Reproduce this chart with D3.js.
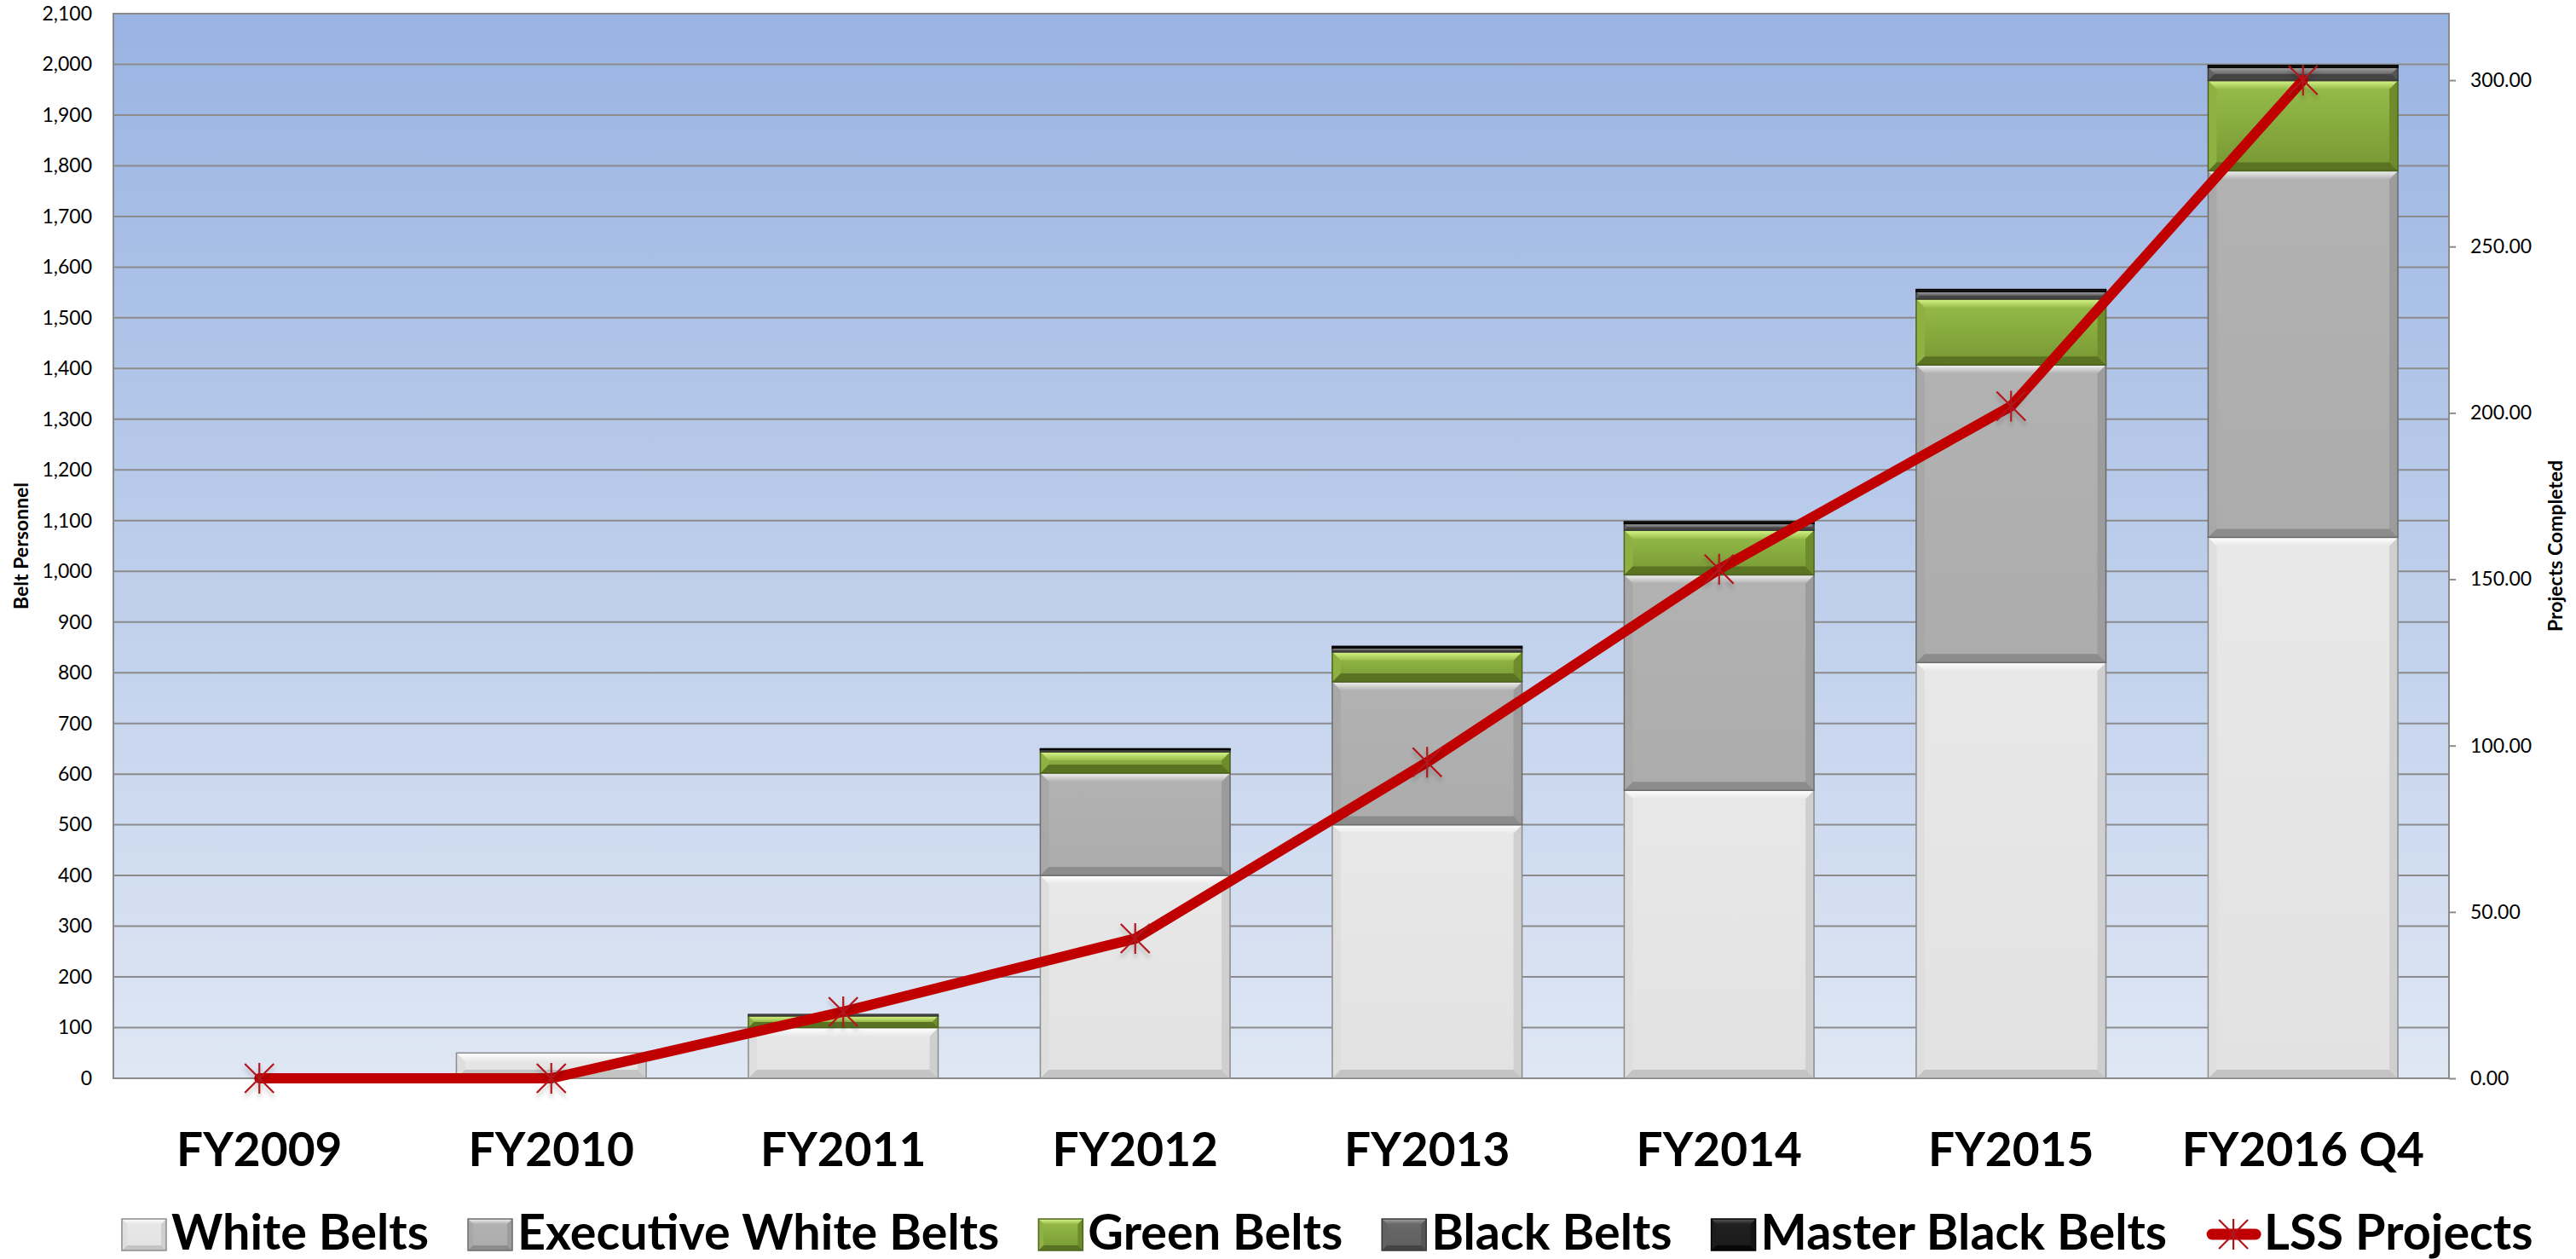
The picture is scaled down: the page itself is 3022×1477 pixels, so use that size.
<!DOCTYPE html>
<html>
<head>
<meta charset="utf-8">
<script src="https://cdn.jsdelivr.net/npm/d3@7/dist/d3.min.js"></script>
<style>
  body { margin: 0; background: #fff; }
  svg { display: block; font-family: Lato, "Open Sans", sans-serif; }
</style>
</head>
<body>
<svg id="chart" width="3022" height="1477"></svg>
<script>
(function() {

  // Chart Data
  var categories = ["FY2009", "FY2010", "FY2011", "FY2012", "FY2013", "FY2014", "FY2015", "FY2016 Q4"];
  var whiteBelts = [0, 50, 100, 400, 500, 568, 820, 1067];
  var execWhiteBelts = [0, 0, 0, 202, 282, 425, 587, 723];
  var greenBelts = [0, 0, 23, 42, 59, 88, 130, 178];
  var blackBelts = [0, 0, 3, 4, 8, 13, 15, 26];
  var masterBlackBelts = [0, 0, 0, 2, 3, 4, 4, 4];
  var lssProjects = [0, 0, 20, 42, 95, 153, 202, 300];
  var seriesNames = ["White Belts", "Executive White Belts", "Green Belts", "Black Belts", "Master Black Belts"];
  var lineName = "LSS Projects";
  var leftTicks = d3.range(0, 2101, 100);
  var rightTicks = [0, 50, 100, 150, 200, 250, 300];
  var leftTitle = "Belt Personnel";
  var rightTitle = "Projects Completed";

  // Design Variables
  var width = 3022;
  var height = 1477;
  var plot = {left: 133, top: 16, right: 2873, bottom: 1265};
  var keys = ["white", "exec", "green", "black", "master"];
  var styles = {
    white:  {top: "#ffffff", body: ["#e8e8e8", "#e2e2e2"], bottom: "#c4c4c4", left: "#dedede", right: "#cfcfcf", stroke: "#8c8c8c"},
    exec:   {top: "#f2f2f2", body: ["#b2b2b2", "#acacac"], bottom: "#8c8c8c", left: "#a8a8a8", right: "#9c9c9c", stroke: "#6c6c6c"},
    green:  {top: "#d8f68a", body: ["#98bd4a", "#779833"], bottom: "#5a7322", left: "#8fb043", right: "#6f8c2c", stroke: "#4d641d"},
    black:  {top: "#a2a2a2", body: ["#6a6a6a", "#5e5e5e"], bottom: "#444444", left: "#626262", right: "#555555", stroke: "#383838"},
    master: {top: "#5a5a5a", body: ["#222222", "#1a1a1a"], bottom: "#080808", left: "#1c1c1c", right: "#141414", stroke: "#000000"}
  };
  var lineColor = "#c00000";
  var starColor = "#b3141a";
  var gridColor = "#8b8b8b";

  // Table for the stack
  var rows = categories.map(function(c, i) {
    return {
      category: c,
      white: whiteBelts[i],
      exec: execWhiteBelts[i],
      green: greenBelts[i],
      black: blackBelts[i],
      master: masterBlackBelts[i],
      projects: lssProjects[i]
    };
  });
  var stacked = d3.stack().keys(keys)(rows);

  // Scales
  var x = d3.scaleBand()
    .domain(categories)
    .range([plot.left, plot.right])
    .paddingInner(0.35)
    .paddingOuter(0.175);

  var yLeft = d3.scaleLinear()
    .domain([0, 2100])
    .range([plot.bottom, plot.top]);

  var yRight = d3.scaleLinear()
    .domain([0, 320])
    .range([plot.bottom, plot.top]);

  var svg = d3.select("#chart");
  var defs = svg.append("defs");

  // Gradients
  var bg = defs.append("linearGradient")
    .attr("id", "plot-bg")
    .attr("x1", 0).attr("y1", 0).attr("x2", 0).attr("y2", 1);
  bg.append("stop").attr("offset", "0%").attr("stop-color", "#99b3e2");
  bg.append("stop").attr("offset", "100%").attr("stop-color", "#dfe7f4");

  keys.forEach(function(k) {
    var s = styles[k];
    var top = defs.append("linearGradient")
      .attr("id", "top-" + k)
      .attr("x1", 0).attr("y1", 0).attr("x2", 0).attr("y2", 1);
    top.append("stop").attr("offset", "0%").attr("stop-color", s.top);
    top.append("stop").attr("offset", "100%").attr("stop-color", s.body[0]);
    var body = defs.append("linearGradient")
      .attr("id", "body-" + k)
      .attr("x1", 0).attr("y1", 0).attr("x2", 0).attr("y2", 1);
    body.append("stop").attr("offset", "0%").attr("stop-color", s.body[0]);
    body.append("stop").attr("offset", "100%").attr("stop-color", s.body[1]);
  });

  var shadow = defs.append("filter")
    .attr("id", "star-shadow")
    .attr("x", "-50%").attr("y", "-50%")
    .attr("width", "200%").attr("height", "200%");
  shadow.append("feDropShadow")
    .attr("dx", 0).attr("dy", 5)
    .attr("stdDeviation", 2.5)
    .attr("flood-color", "#000")
    .attr("flood-opacity", 0.25);

  // Plot area
  svg.append("rect")
    .attr("x", plot.left)
    .attr("y", plot.top)
    .attr("width", plot.right - plot.left)
    .attr("height", plot.bottom - plot.top)
    .attr("fill", "url(#plot-bg)");

  svg.append("g")
    .selectAll("line")
    .data(leftTicks)
    .enter()
    .append("line")
    .attr("x1", plot.left)
    .attr("x2", plot.right)
    .attr("y1", function(d) { return yLeft(d); })
    .attr("y2", function(d) { return yLeft(d); })
    .attr("stroke", gridColor)
    .attr("stroke-width", 2);

  svg.append("rect")
    .attr("x", plot.left)
    .attr("y", plot.top)
    .attr("width", plot.right - plot.left)
    .attr("height", plot.bottom - plot.top)
    .attr("fill", "none")
    .attr("stroke", gridColor)
    .attr("stroke-width", 2);

  // Bevelled box like the Excel bars
  function bevelBox(g, k, x0, y0, w, h, size) {
    var s = styles[k];
    var b = Math.min(size, h / 2);
    var pts = function(a) { return a.map(function(p) { return p.join(","); }).join(" "); };
    g.append("rect")
      .attr("x", x0).attr("y", y0)
      .attr("width", w).attr("height", h)
      .attr("fill", "url(#body-" + k + ")");
    g.append("polygon")
      .attr("points", pts([[x0, y0], [x0 + b, y0 + b], [x0 + b, y0 + h - b], [x0, y0 + h]]))
      .attr("fill", s.left);
    g.append("polygon")
      .attr("points", pts([[x0 + w, y0], [x0 + w - b, y0 + b], [x0 + w - b, y0 + h - b], [x0 + w, y0 + h]]))
      .attr("fill", s.right);
    g.append("polygon")
      .attr("points", pts([[x0, y0 + h], [x0 + w, y0 + h], [x0 + w - b, y0 + h - b], [x0 + b, y0 + h - b]]))
      .attr("fill", s.bottom);
    g.append("polygon")
      .attr("points", pts([[x0, y0], [x0 + w, y0], [x0 + w - b, y0 + b], [x0 + b, y0 + b]]))
      .attr("fill", "url(#top-" + k + ")");
    g.append("rect")
      .attr("x", x0).attr("y", y0)
      .attr("width", w).attr("height", h)
      .attr("fill", "none")
      .attr("stroke", s.stroke)
      .attr("stroke-width", 1.5);
  }

  // Stacked bars
  var bars = svg.append("g").attr("class", "bars");
  stacked.forEach(function(layer) {
    var k = layer.key;
    layer.forEach(function(d) {
      var y0 = yLeft(d[1]);
      var h = yLeft(d[0]) - yLeft(d[1]);
      if (h <= 0.5) return;
      bevelBox(bars.append("g"), k, x(d.data.category), y0, x.bandwidth(), h, 10);
    });
  });

  // LSS projects line
  var cx = function(d) { return x(d.category) + x.bandwidth() / 2; };
  var line = d3.line()
    .x(cx)
    .y(function(d) { return yRight(d.projects); });

  svg.append("path")
    .datum(rows)
    .attr("d", line)
    .attr("fill", "none")
    .attr("stroke", lineColor)
    .attr("stroke-width", 12)
    .attr("stroke-linejoin", "round")
    .attr("stroke-linecap", "round");

  var starPath = "M0,-18L0,18M-17,-17L17,17M-17,17L17,-17";
  svg.append("g")
    .selectAll("path")
    .data(rows)
    .enter()
    .append("path")
    .attr("transform", function(d) { return "translate(" + cx(d) + "," + yRight(d.projects) + ")"; })
    .attr("d", starPath)
    .attr("fill", "none")
    .attr("stroke", starColor)
    .attr("stroke-width", 2.2)
    .attr("filter", "url(#star-shadow)");

  // Axes
  var leftAxis = svg.append("g")
    .attr("transform", "translate(" + plot.left + ",0)")
    .call(d3.axisLeft(yLeft).tickValues(leftTicks).tickFormat(d3.format(",")).tickSize(0).tickPadding(25));
  leftAxis.select(".domain").remove();
  leftAxis.selectAll("text")
    .attr("font-family", "Lato, sans-serif")
    .attr("font-size", 23)
    .attr("fill", "#000");

  var rightAxis = svg.append("g")
    .attr("transform", "translate(" + plot.right + ",0)")
    .call(d3.axisRight(yRight).tickValues(rightTicks).tickFormat(d3.format(".2f")).tickSize(8).tickPadding(17));
  rightAxis.select(".domain").remove();
  rightAxis.selectAll("line").attr("stroke", gridColor).attr("stroke-width", 2);
  rightAxis.selectAll("text")
    .attr("font-family", "Lato, sans-serif")
    .attr("font-size", 23)
    .attr("fill", "#000");

  var bottomAxis = svg.append("g")
    .attr("transform", "translate(0," + plot.bottom + ")")
    .call(d3.axisBottom(x).tickSize(0));
  bottomAxis.select(".domain").remove();
  bottomAxis.selectAll("text")
    .attr("y", 103)
    .attr("dy", 0)
    .attr("font-family", "Lato, sans-serif")
    .attr("font-weight", "bold")
    .attr("font-size", 55)
    .attr("fill", "#000");

  // Axis titles
  svg.append("text")
    .attr("transform", "translate(33," + (plot.top + plot.bottom) / 2 + ") rotate(-90)")
    .attr("text-anchor", "middle")
    .attr("font-weight", "bold")
    .attr("font-size", 23)
    .text(leftTitle);

  svg.append("text")
    .attr("transform", "translate(3006," + (plot.top + plot.bottom) / 2 + ") rotate(-90)")
    .attr("text-anchor", "middle")
    .attr("font-weight", "bold")
    .attr("font-size", 23)
    .text(rightTitle);

  // Legend
  var legend = svg.append("g").attr("class", "legend");
  var lx = 143;
  var swatchTop = 1430;
  var baseline = 1466;
  var legendFont = 57.5;
  seriesNames.forEach(function(name, i) {
    var g = legend.append("g");
    bevelBox(g, keys[i], lx, swatchTop, 52, 37, 6);
    var t = g.append("text")
      .attr("x", lx + 58)
      .attr("y", baseline)
      .attr("font-weight", "bold")
      .attr("font-size", legendFont)
      .text(name);
    lx += 58 + t.node().getComputedTextLength() + 46;
  });

  var lg = legend.append("g");
  lg.append("line")
    .attr("x1", lx + 7).attr("x2", lx + 58)
    .attr("y1", 1448).attr("y2", 1448)
    .attr("stroke", lineColor)
    .attr("stroke-width", 13)
    .attr("stroke-linecap", "round");
  lg.append("path")
    .attr("transform", "translate(" + (lx + 32) + ",1448)")
    .attr("d", starPath)
    .attr("fill", "none")
    .attr("stroke", starColor)
    .attr("stroke-width", 2.2);
  lg.append("text")
    .attr("x", lx + 68)
    .attr("y", baseline)
    .attr("font-weight", "bold")
    .attr("font-size", legendFont)
    .text(lineName);

})();
</script>
</body>
</html>
